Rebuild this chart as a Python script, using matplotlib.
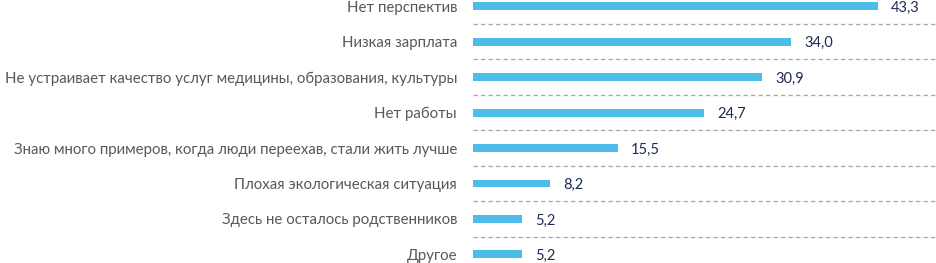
import matplotlib
matplotlib.use('Agg')
import matplotlib.pyplot as plt

labels = ['Нет перспектив',
          'Низкая зарплата',
          'Не устраивает качество услуг медицины, образования, культуры',
          'Нет работы',
          'Знаю много примеров, когда люди переехав, стали жить лучше',
          'Плохая экологическая ситуация',
          'Здесь не осталось родственников',
          'Другое']
values = [43.3, 34.0, 30.9, 24.7, 15.5, 8.2, 5.2, 5.2]

plt.rcParams['font.family'] = ['Lato', 'DejaVu Sans']

fig = plt.figure(figsize=(9.37, 2.63), dpi=100)
ax = fig.add_axes([473 / 937, 0, 1 - 473 / 937, 1])

y = list(range(len(values)))
ax.barh(y, values, height=0.225, color='#4BBDE6')
for i, v in enumerate(values):
    ax.text(v + 1.4, i, ('%.1f' % v).replace('.', ','), va='center_baseline', ha='left',
            fontsize=10.5, color='#1F2A55')
for i in range(len(values) - 1):
    ax.axhline(i + 0.5, color='#A6A6A6', lw=0.9, ls=(0, (3.5, 2.5)))

ax.set_xlim(0, 49.6)
ax.set_ylim(7.24, -0.17)
ax.set_yticks(y)
ax.set_yticklabels(labels, fontsize=10.82, color='#595959', va='center_baseline')
ax.tick_params(axis='y', length=0, pad=11.5)
ax.set_xticks([])
for s in ax.spines.values():
    s.set_visible(False)

fig.savefig('out.png', dpi=100)
